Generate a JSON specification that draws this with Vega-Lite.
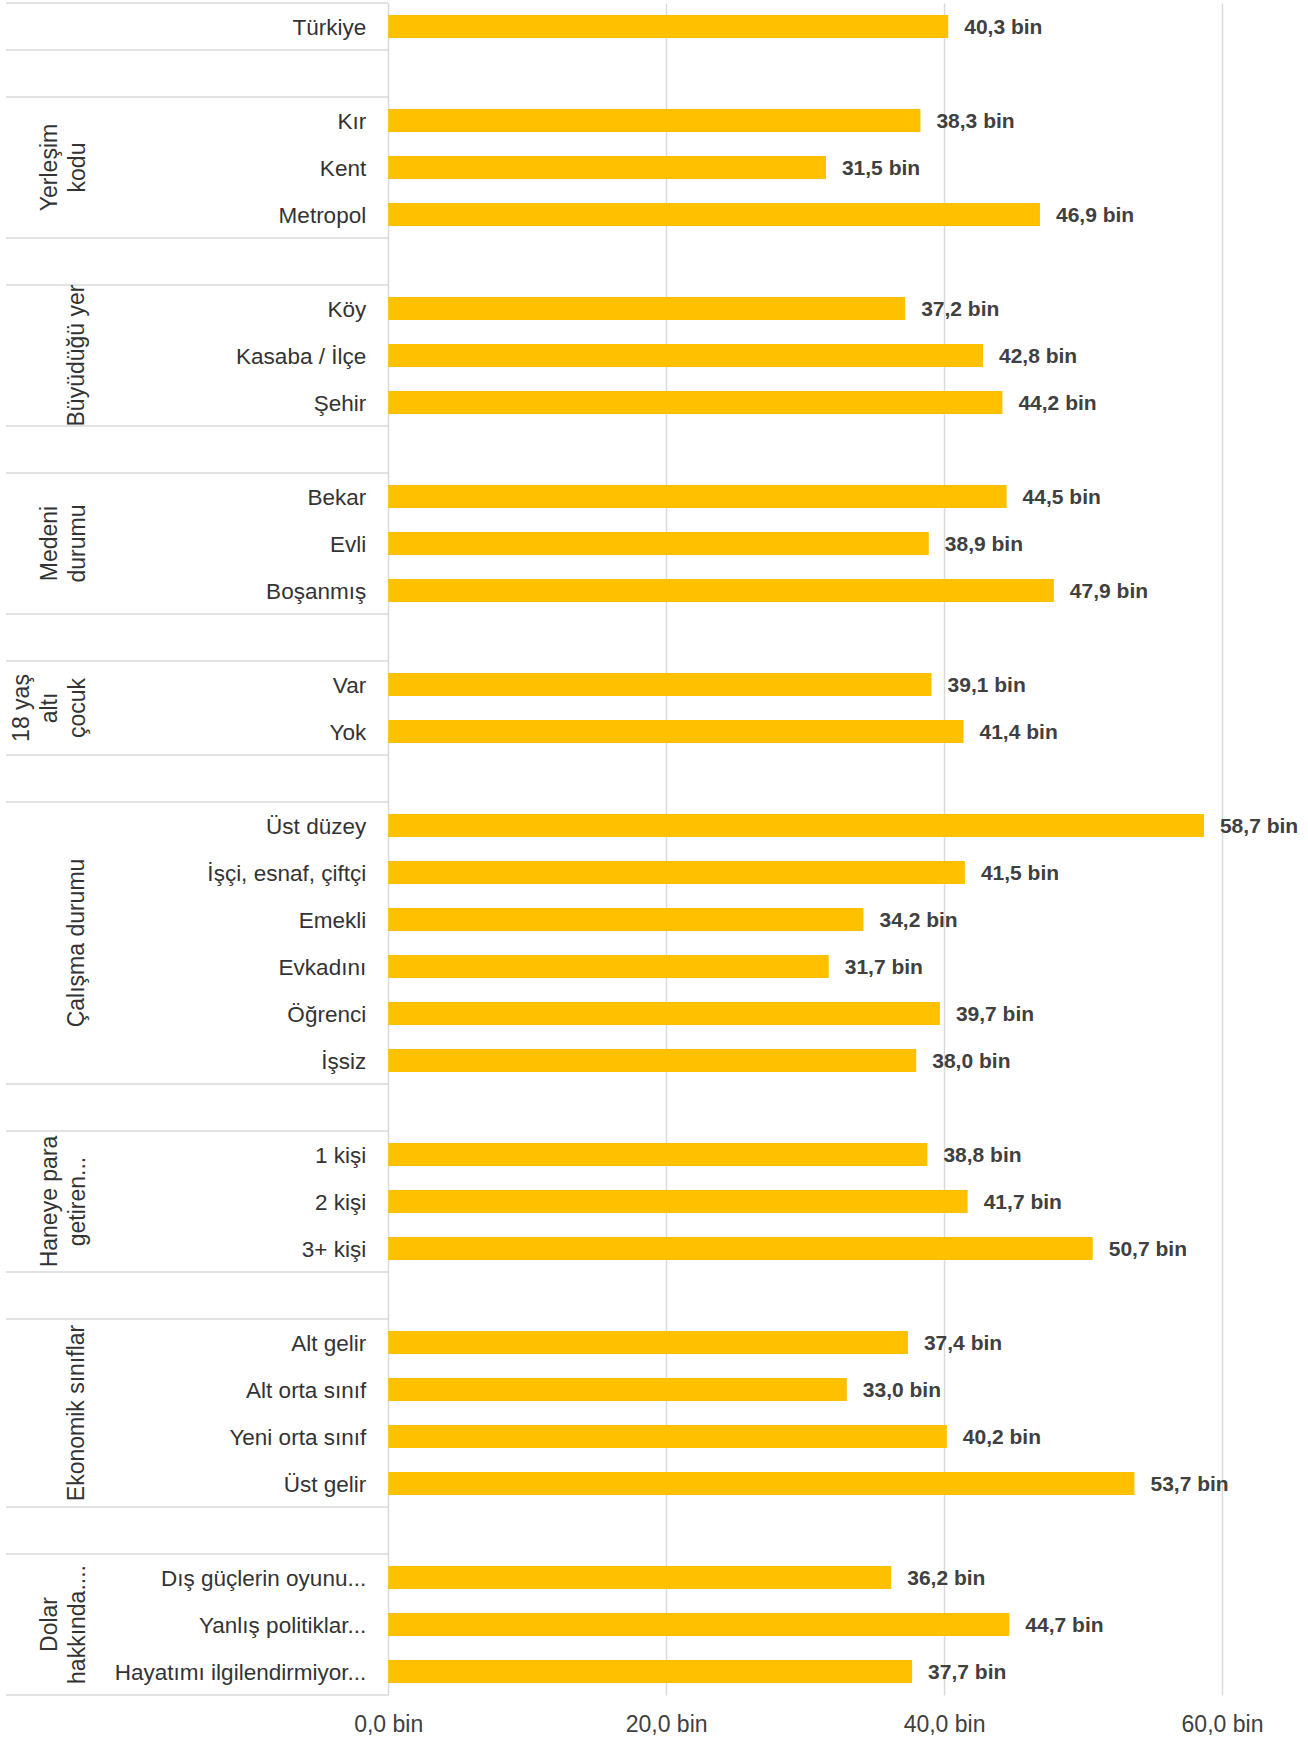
{
  "$schema": "https://vega.github.io/schema/vega-lite/v6.json",
  "width": 1216,
  "height": 1692,
  "autosize": {"type": "none"},
  "padding": {"left": 6, "top": 3, "right": 86, "bottom": 45},
  "background": "white",
  "config": {
    "view": {"stroke": null},
    "locale": {"number": {"decimal": ",", "thousands": ".", "grouping": [3], "currency": ["", " bin"]}},
    "font": "Liberation Sans",
    "text": {"font": "Liberation Sans", "color": "#333333"}
  },
  "layer": [
    {
      "data": {"values": [
        {"row": "Türkiye"}, {"row": "_1"}, {"row": "Kır"}, {"row": "_2"}, {"row": "Köy"}, {"row": "_3"},
        {"row": "Bekar"}, {"row": "_4"}, {"row": "Var"}, {"row": "_5"}, {"row": "Üst düzey"}, {"row": "_6"},
        {"row": "1 kişi"}, {"row": "_7"}, {"row": "Alt gelir"}, {"row": "_8"}, {"row": "Dış güçlerin oyunu..."}
      ]},
      "mark": {"type": "rule", "color": "#d9d9d9", "strokeWidth": 1.5},
      "encoding": {
        "y": {"field": "row", "type": "nominal", "bandPosition": 0, "axis": null,
          "scale": {"domain": ["Türkiye","_1","Kır","Kent","Metropol","_2","Köy","Kasaba / İlçe","Şehir","_3","Bekar","Evli","Boşanmış","_4","Var","Yok","_5","Üst düzey","İşçi, esnaf, çiftçi","Emekli","Evkadını","Öğrenci","İşsiz","_6","1 kişi","2 kişi","3+ kişi","_7","Alt gelir","Alt orta sınıf","Yeni orta sınıf","Üst gelir","_8","Dış güçlerin oyunu...","Yanlış politiklar...","Hayatımı ilgilendirmiyor..."], "paddingInner": 0, "paddingOuter": 0}},
        "x": {"datum": -27.5, "type": "quantitative", "scale": {"domain": [-27.5, 60], "nice": false, "zero": false}, "title": null},
        "x2": {"datum": 0}
      }
    },
    {
      "data": {"values": [{"row": "Hayatımı ilgilendirmiyor..."}]},
      "mark": {"type": "rule", "color": "#d9d9d9", "strokeWidth": 1.5},
      "encoding": {
        "y": {"field": "row", "type": "nominal", "bandPosition": 1, "axis": null,
          "scale": {"domain": ["Türkiye","_1","Kır","Kent","Metropol","_2","Köy","Kasaba / İlçe","Şehir","_3","Bekar","Evli","Boşanmış","_4","Var","Yok","_5","Üst düzey","İşçi, esnaf, çiftçi","Emekli","Evkadını","Öğrenci","İşsiz","_6","1 kişi","2 kişi","3+ kişi","_7","Alt gelir","Alt orta sınıf","Yeni orta sınıf","Üst gelir","_8","Dış güçlerin oyunu...","Yanlış politiklar...","Hayatımı ilgilendirmiyor..."], "paddingInner": 0, "paddingOuter": 0}},
        "x": {"datum": -27.5, "type": "quantitative", "scale": {"domain": [-27.5, 60], "nice": false, "zero": false}, "title": null},
        "x2": {"datum": 0}
      }
    },
    {
      "data": {"values": [
        {"row": "Türkiye", "value": 40.3},
        {"row": "Kır", "value": 38.3},
        {"row": "Kent", "value": 31.5},
        {"row": "Metropol", "value": 46.9},
        {"row": "Köy", "value": 37.2},
        {"row": "Kasaba / İlçe", "value": 42.8},
        {"row": "Şehir", "value": 44.2},
        {"row": "Bekar", "value": 44.5},
        {"row": "Evli", "value": 38.9},
        {"row": "Boşanmış", "value": 47.9},
        {"row": "Var", "value": 39.1},
        {"row": "Yok", "value": 41.4},
        {"row": "Üst düzey", "value": 58.7},
        {"row": "İşçi, esnaf, çiftçi", "value": 41.5},
        {"row": "Emekli", "value": 34.2},
        {"row": "Evkadını", "value": 31.7},
        {"row": "Öğrenci", "value": 39.7},
        {"row": "İşsiz", "value": 38.0},
        {"row": "1 kişi", "value": 38.8},
        {"row": "2 kişi", "value": 41.7},
        {"row": "3+ kişi", "value": 50.7},
        {"row": "Alt gelir", "value": 37.4},
        {"row": "Alt orta sınıf", "value": 33.0},
        {"row": "Yeni orta sınıf", "value": 40.2},
        {"row": "Üst gelir", "value": 53.7},
        {"row": "Dış güçlerin oyunu...", "value": 36.2},
        {"row": "Yanlış politiklar...", "value": 44.7},
        {"row": "Hayatımı ilgilendirmiyor...", "value": 37.7}
      ]},
      "layer": [
        {
          "mark": {"type": "bar", "color": "#FFC000", "height": {"band": 0.49}},
          "encoding": {
            "y": {"field": "row", "type": "nominal", "axis": null,
              "scale": {"domain": ["Türkiye","_1","Kır","Kent","Metropol","_2","Köy","Kasaba / İlçe","Şehir","_3","Bekar","Evli","Boşanmış","_4","Var","Yok","_5","Üst düzey","İşçi, esnaf, çiftçi","Emekli","Evkadını","Öğrenci","İşsiz","_6","1 kişi","2 kişi","3+ kişi","_7","Alt gelir","Alt orta sınıf","Yeni orta sınıf","Üst gelir","_8","Dış güçlerin oyunu...","Yanlış politiklar...","Hayatımı ilgilendirmiyor..."], "paddingInner": 0, "paddingOuter": 0}},
            "x": {"field": "value", "type": "quantitative", "title": null,
              "scale": {"domain": [-27.5, 60], "nice": false, "zero": false},
              "axis": {"values": [0, 20, 40, 60], "format": "$.1f", "grid": true, "gridColor": "#d9d9d9", "gridWidth": 1.5,
                "domain": false, "ticks": false, "labelFontSize": 23, "labelColor": "#404040", "labelPadding": 18, "labelFlush": false, "labelFont": "Liberation Sans"}}
          }
        },
        {
          "mark": {"type": "text", "align": "left", "baseline": "middle", "dx": 16, "dy": 1, "fontSize": 21, "fontWeight": "bold", "color": "#404040"},
          "encoding": {
            "y": {"field": "row", "type": "nominal", "axis": null,
              "scale": {"domain": ["Türkiye","_1","Kır","Kent","Metropol","_2","Köy","Kasaba / İlçe","Şehir","_3","Bekar","Evli","Boşanmış","_4","Var","Yok","_5","Üst düzey","İşçi, esnaf, çiftçi","Emekli","Evkadını","Öğrenci","İşsiz","_6","1 kişi","2 kişi","3+ kişi","_7","Alt gelir","Alt orta sınıf","Yeni orta sınıf","Üst gelir","_8","Dış güçlerin oyunu...","Yanlış politiklar...","Hayatımı ilgilendirmiyor..."], "paddingInner": 0, "paddingOuter": 0}},
            "x": {"field": "value", "type": "quantitative", "title": null, "scale": {"domain": [-27.5, 60], "nice": false, "zero": false}},
            "text": {"field": "value", "type": "quantitative", "format": "$.1f"}
          }
        },
        {
          "mark": {"type": "text", "align": "right", "baseline": "middle", "dx": -22, "dy": 1, "fontSize": 22.5, "color": "#333333"},
          "encoding": {
            "y": {"field": "row", "type": "nominal", "axis": null,
              "scale": {"domain": ["Türkiye","_1","Kır","Kent","Metropol","_2","Köy","Kasaba / İlçe","Şehir","_3","Bekar","Evli","Boşanmış","_4","Var","Yok","_5","Üst düzey","İşçi, esnaf, çiftçi","Emekli","Evkadını","Öğrenci","İşsiz","_6","1 kişi","2 kişi","3+ kişi","_7","Alt gelir","Alt orta sınıf","Yeni orta sınıf","Üst gelir","_8","Dış güçlerin oyunu...","Yanlış politiklar...","Hayatımı ilgilendirmiyor..."], "paddingInner": 0, "paddingOuter": 0}},
            "x": {"datum": 0, "type": "quantitative", "title": null, "scale": {"domain": [-27.5, 60], "nice": false, "zero": false}},
            "text": {"field": "row", "type": "nominal"}
          }
        }
      ]
    },
    {
      "data": {"values": [
        {"row": "Kasaba / İlçe", "group": "Büyüdüğü yer"}
      ]},
      "mark": {"type": "text", "angle": 270, "align": "center", "baseline": "bottom", "lineBreak": "|", "lineHeight": 28, "fontSize": 23, "color": "#333333"},
      "encoding": {
        "y": {"field": "row", "type": "nominal", "axis": null,
          "scale": {"domain": ["Türkiye","_1","Kır","Kent","Metropol","_2","Köy","Kasaba / İlçe","Şehir","_3","Bekar","Evli","Boşanmış","_4","Var","Yok","_5","Üst düzey","İşçi, esnaf, çiftçi","Emekli","Evkadını","Öğrenci","İşsiz","_6","1 kişi","2 kişi","3+ kişi","_7","Alt gelir","Alt orta sınıf","Yeni orta sınıf","Üst gelir","_8","Dış güçlerin oyunu...","Yanlış politiklar...","Hayatımı ilgilendirmiyor..."], "paddingInner": 0, "paddingOuter": 0}},
        "x": {"datum": -21.5, "type": "quantitative", "title": null, "scale": {"domain": [-27.5, 60], "nice": false, "zero": false}},
        "text": {"field": "group", "type": "nominal"}
      }
    },
    {
      "data": {"values": [
        {"row": "Evkadını", "group": "Çalışma durumu"},
        {"row": "Yeni orta sınıf", "group": "Ekonomik sınıflar"}
      ]},
      "mark": {"type": "text", "angle": 270, "align": "center", "baseline": "bottom", "lineBreak": "|", "lineHeight": 28, "fontSize": 23, "color": "#333333"},
      "encoding": {
        "y": {"field": "row", "type": "nominal", "bandPosition": 0, "axis": null,
          "scale": {"domain": ["Türkiye","_1","Kır","Kent","Metropol","_2","Köy","Kasaba / İlçe","Şehir","_3","Bekar","Evli","Boşanmış","_4","Var","Yok","_5","Üst düzey","İşçi, esnaf, çiftçi","Emekli","Evkadını","Öğrenci","İşsiz","_6","1 kişi","2 kişi","3+ kişi","_7","Alt gelir","Alt orta sınıf","Yeni orta sınıf","Üst gelir","_8","Dış güçlerin oyunu...","Yanlış politiklar...","Hayatımı ilgilendirmiyor..."], "paddingInner": 0, "paddingOuter": 0}},
        "x": {"datum": -21.5, "type": "quantitative", "title": null, "scale": {"domain": [-27.5, 60], "nice": false, "zero": false}},
        "text": {"field": "group", "type": "nominal"}
      }
    },
    {
      "data": {"values": [
        {"row": "Kent", "group": "Yerleşim|kodu"},
        {"row": "Evli", "group": "Medeni|durumu"},
        {"row": "2 kişi", "group": "Haneye para|getiren..."},
        {"row": "Yanlış politiklar...", "group": "Dolar|hakkında...."}
      ]},
      "mark": {"type": "text", "angle": 270, "align": "center", "baseline": "bottom", "lineBreak": "|", "lineHeight": 28, "fontSize": 23, "color": "#333333"},
      "encoding": {
        "y": {"field": "row", "type": "nominal", "axis": null,
          "scale": {"domain": ["Türkiye","_1","Kır","Kent","Metropol","_2","Köy","Kasaba / İlçe","Şehir","_3","Bekar","Evli","Boşanmış","_4","Var","Yok","_5","Üst düzey","İşçi, esnaf, çiftçi","Emekli","Evkadını","Öğrenci","İşsiz","_6","1 kişi","2 kişi","3+ kişi","_7","Alt gelir","Alt orta sınıf","Yeni orta sınıf","Üst gelir","_8","Dış güçlerin oyunu...","Yanlış politiklar...","Hayatımı ilgilendirmiyor..."], "paddingInner": 0, "paddingOuter": 0}},
        "x": {"datum": -23.5, "type": "quantitative", "title": null, "scale": {"domain": [-27.5, 60], "nice": false, "zero": false}},
        "text": {"field": "group", "type": "nominal"}
      }
    },
    {
      "data": {"values": [
        {"row": "Yok", "group": "18 yaş|altı|çocuk"}
      ]},
      "mark": {"type": "text", "angle": 270, "align": "center", "baseline": "bottom", "lineBreak": "|", "lineHeight": 28, "fontSize": 23, "color": "#333333"},
      "encoding": {
        "y": {"field": "row", "type": "nominal", "bandPosition": 0, "axis": null,
          "scale": {"domain": ["Türkiye","_1","Kır","Kent","Metropol","_2","Köy","Kasaba / İlçe","Şehir","_3","Bekar","Evli","Boşanmış","_4","Var","Yok","_5","Üst düzey","İşçi, esnaf, çiftçi","Emekli","Evkadını","Öğrenci","İşsiz","_6","1 kişi","2 kişi","3+ kişi","_7","Alt gelir","Alt orta sınıf","Yeni orta sınıf","Üst gelir","_8","Dış güçlerin oyunu...","Yanlış politiklar...","Hayatımı ilgilendirmiyor..."], "paddingInner": 0, "paddingOuter": 0}},
        "x": {"datum": -25.5, "type": "quantitative", "title": null, "scale": {"domain": [-27.5, 60], "nice": false, "zero": false}},
        "text": {"field": "group", "type": "nominal"}
      }
    }
  ]
}
